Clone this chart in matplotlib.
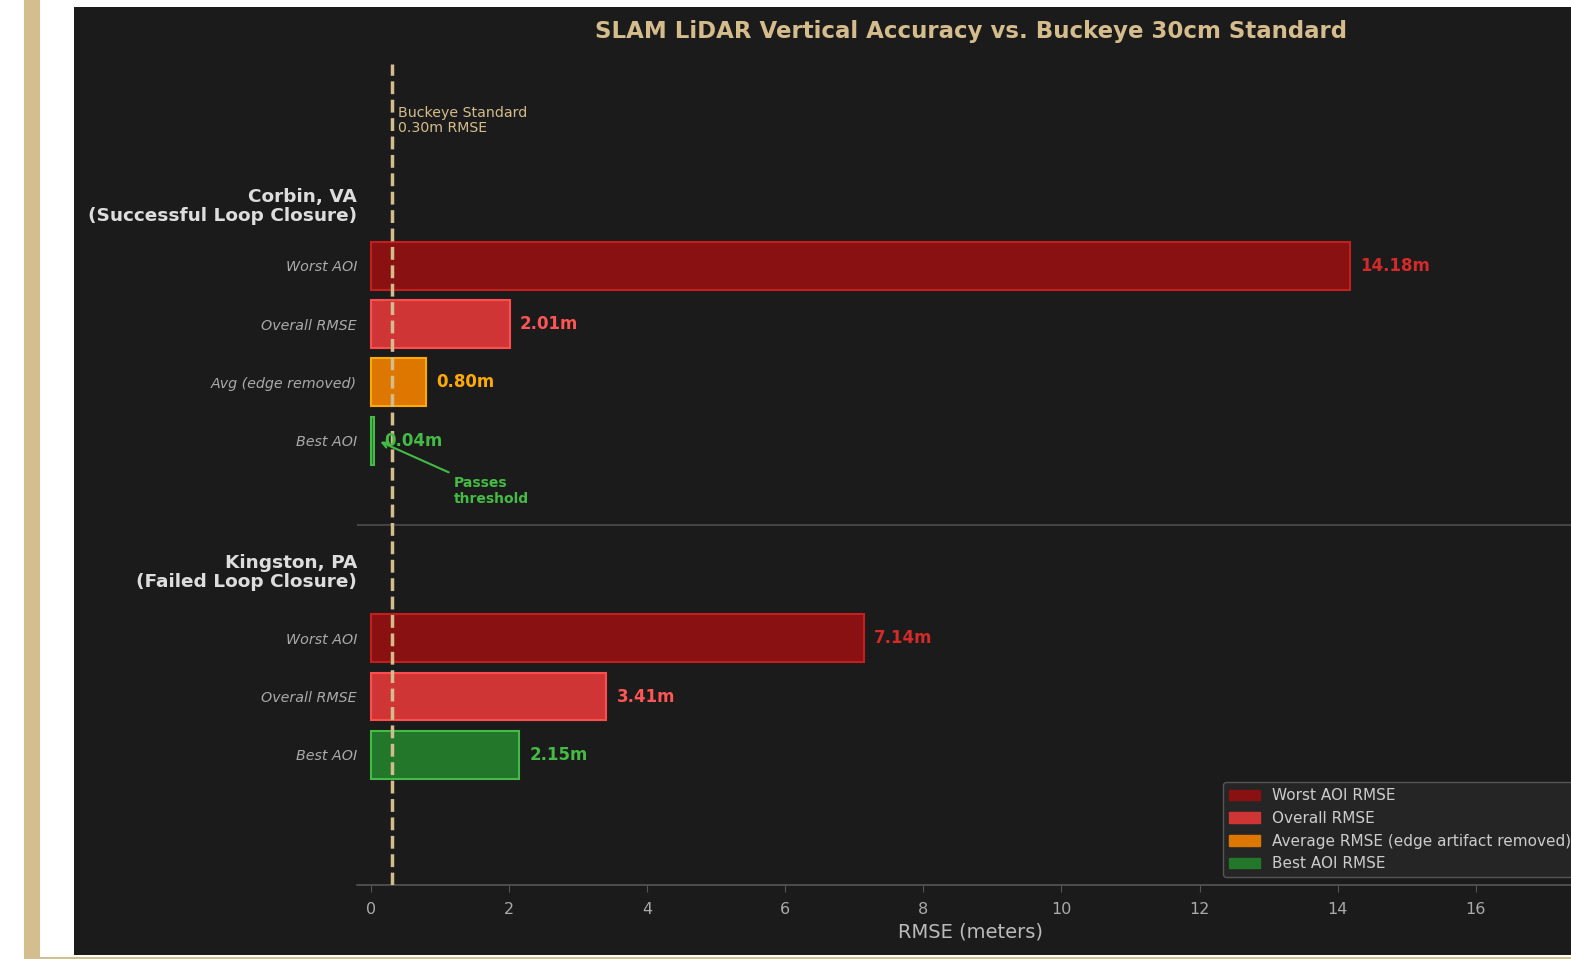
import numpy as np
import matplotlib
matplotlib.use("Agg")
import matplotlib.pyplot as plt
from matplotlib.patches import Rectangle, Patch

plt.rcParams["font.family"] = ["DejaVu Sans"]

# ---- data ----
corbin_labels = ["Worst AOI", "Overall RMSE", "Avg (edge removed)", "Best AOI"]
corbin_values = [14.18, 2.01, 0.80, 0.04]
corbin_kinds = ["worst", "overall", "avg", "best"]

kingston_labels = ["Worst AOI", "Overall RMSE", "Best AOI"]
kingston_values = [7.14, 3.41, 2.15]
kingston_kinds = ["worst", "overall", "best"]

group_titles = ["Corbin, VA\n(Successful Loop Closure)", "Kingston, PA\n(Failed Loop Closure)"]
legend_labels = {"worst": "Worst AOI RMSE", "overall": "Overall RMSE",
                 "avg": "Average RMSE (edge artifact removed)", "best": "Best AOI RMSE"}
standard = 0.30
xticks = [0, 2, 4, 6, 8, 10, 12, 14, 16]

# ---- styles ----
face = {"worst": "#8a1111", "overall": "#d03535", "avg": "#dd7700", "best": "#22772a"}
edge = {"worst": "#c41e1e", "overall": "#ff4d4d", "avg": "#ffaa00", "best": "#44bb44"}
txtc = {"worst": "#d42a2a", "overall": "#ff5555", "avg": "#ffaa00", "best": "#44bb44"}
BG = "#1b1b1b"
TAN = "#d4bc8c"

W, H = 1571, 959
fig = plt.figure(figsize=(W / 100, H / 100), dpi=100, facecolor="white")
# decorative frame
for r in [Rectangle((24 / W, 0), 16 / W, 1, transform=fig.transFigure,
                    facecolor="#d4bd8e", edgecolor="none", zorder=-10),
          Rectangle((40 / W, 0), 1 - 40 / W, 2 / H, transform=fig.transFigure,
                    facecolor="#d4bd8e", edgecolor="none", zorder=-10),
          Rectangle((74 / W, 4 / H), 1 - 74 / W, (955 - 7) / H, transform=fig.transFigure,
                    facecolor=BG, edgecolor="none", zorder=-10)]:
    fig.patches.append(r)

ax_left, ax_right, ax_top, ax_bot = 357, 1585, 64, 885
ax = fig.add_axes([ax_left / W, (H - ax_bot) / H, (ax_right - ax_left) / W, (ax_bot - ax_top) / H])
ax.set_zorder(1)
ax.set_facecolor(BG)
unit = 58.3
ax.set_ylim((ax_bot - ax_top) / unit, 0)
ax.set_xlim(-0.2, -0.2 + (ax_right - ax_left) / 69.06)

corbin_y = 3.46 + np.arange(len(corbin_values))
kingston_y = 9.85 + np.arange(len(kingston_values))

bh = 0.82
for ys, vals, kinds in [(corbin_y, corbin_values, corbin_kinds),
                        (kingston_y, kingston_values, kingston_kinds)]:
    for y, v, k in zip(ys, vals, kinds):
        ax.barh(y, v, height=bh, color=face[k], edgecolor=edge[k], linewidth=1.5, zorder=3)
        ax.text(v + 0.15, y, f"{v:.2f}m", color=txtc[k], fontsize=12, fontweight="bold",
                va="center", ha="left", zorder=5)

ax.set_yticks(list(corbin_y) + list(kingston_y))
ax.set_yticklabels(corbin_labels + kingston_labels, fontstyle="italic", fontsize=10.3, color="#aaaaaa")
ax.tick_params(axis="y", length=0, pad=0)

ytrans = ax.get_yaxis_transform()
ax.text(0, 2.44, group_titles[0], transform=ytrans, ha="right", va="center",
        fontsize=13.3, fontweight="bold", color="#dddddd", linespacing=1.1)
ax.text(0, 8.72, group_titles[1], transform=ytrans, ha="right", va="center",
        fontsize=13.3, fontweight="bold", color="#dddddd", linespacing=1.1)

ax.axvline(standard, color=TAN, linestyle="--", linewidth=2.5, zorder=4)
ax.text(standard + 0.1, 0.72, "Buckeye Standard\n0.30m RMSE", color=TAN, fontsize=10.2,
        va="top", ha="left", linespacing=1.1)
ax.axhline(7.9, color="#444444", linewidth=1.5, zorder=1)

ax.annotate("Passes\nthreshold", xy=(0.1, corbin_y[3]), xytext=(1.2, corbin_y[3] + 0.87),
            color="#44bb44", fontsize=10, fontweight="bold", va="center", ha="left",
            linespacing=1.2,
            arrowprops=dict(arrowstyle="->", color="#44bb44", lw=1.5), zorder=6)

ax.set_xticks(xticks)
ax.tick_params(axis="x", colors="#555555", labelcolor="#aaaaaa", labelsize=11.5, length=5, pad=7)
ax.set_xlabel("RMSE (meters)", color="#bbbbbb", fontsize=14, labelpad=4)
for s in ["top", "right", "left"]:
    ax.spines[s].set_visible(False)
ax.spines["bottom"].set_color("#555555")
ax.spines["bottom"].set_linewidth(1.2)

ax.set_title("SLAM LiDAR Vertical Accuracy vs. Buckeye 30cm Standard", color=TAN,
             fontsize=16.5, fontweight="bold", pad=19)

handles = [Patch(facecolor=face[k], edgecolor=face[k], label=legend_labels[k])
           for k in ["worst", "overall", "avg", "best"]]
leg = ax.legend(handles=handles, loc="lower right", fontsize=11, facecolor="#252525",
                edgecolor="#555555", labelcolor="#cccccc", framealpha=1.0)

fig.savefig("out.png", dpi=100, facecolor="white")
